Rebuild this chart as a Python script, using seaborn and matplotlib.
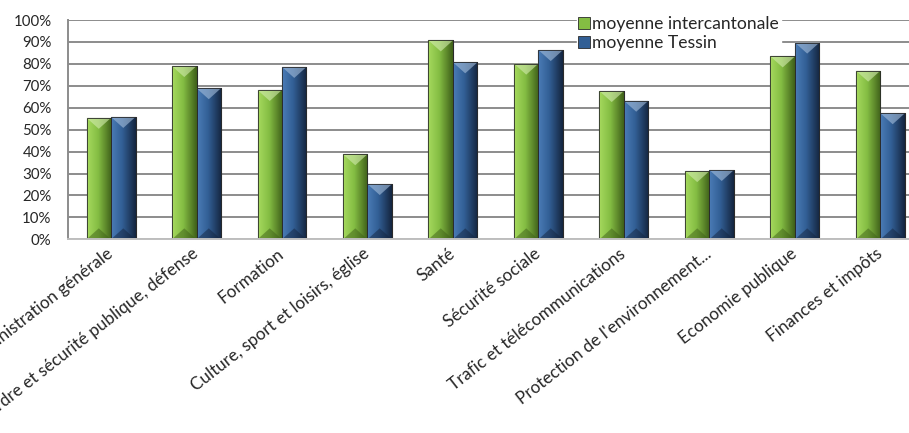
import numpy as np
import pandas as pd
import matplotlib
matplotlib.use("Agg")
import matplotlib.pyplot as plt
import seaborn as sns
from matplotlib.patches import Polygon, Patch
from matplotlib.ticker import PercentFormatter
from matplotlib.colors import to_rgb

categories = [
    "Administration générale",
    "Ordre et sécurité publique, défense",
    "Formation",
    "Culture, sport et loisirs, église",
    "Santé",
    "Sécurité sociale",
    "Trafic et télécommunications",
    "Protection de l'environnement...",
    "Economie publique",
    "Finances et impôts",
]
moyenne_intercantonale = [0.554, 0.790, 0.681, 0.388, 0.907, 0.801, 0.676, 0.311, 0.834, 0.769]
moyenne_tessin = [0.558, 0.689, 0.786, 0.252, 0.807, 0.863, 0.632, 0.316, 0.897, 0.575]
series_names = ["moyenne intercantonale", "moyenne Tessin"]

df = pd.DataFrame({
    "categorie": categories * 2,
    "valeur": moyenne_intercantonale + moyenne_tessin,
    "serie": [series_names[0]] * len(categories) + [series_names[1]] * len(categories),
})

sns.set_style("white")
plt.rcParams["font.family"] = ["Lato", "DejaVu Sans"]

# couleurs : clair (gauche) -> sombre (droite)
shades = {
    series_names[0]: ("#a6d95e", "#84bd43", "#3f6019"),
    series_names[1]: ("#4b7cb6", "#325f95", "#14253f"),
}
palette = {k: v[1] for k, v in shades.items()}

fig = plt.figure(figsize=(9.09, 4.33), dpi=100)
ax = fig.add_axes([0.0751, 0.4473, 0.9405, 0.5065])

sns.barplot(data=df, x="categorie", y="valeur", hue="serie", palette=palette,
            width=0.573, gap=0, saturation=1, legend=False, ax=ax,
            linewidth=0.8, edgecolor="#2a2a2a")

ax.set_ylim(0, 1)
ax.set_xlim(-0.5, len(categories) - 0.5)
ax.set_yticks(np.arange(0, 1.01, 0.1))
ax.yaxis.set_major_formatter(PercentFormatter(1.0, decimals=0))
ax.grid(axis="y", color="#8c8c8c", linewidth=1.4)
ax.set_axisbelow(True)
for s in ["top", "right"]:
    ax.spines[s].set_visible(False)
ax.spines["left"].set_color("#8c8c8c")
ax.spines["left"].set_linewidth(1.4)
ax.spines["bottom"].set_color("#bfbfbf")
ax.spines["bottom"].set_linewidth(1.4)
ax.set_xlabel("")
ax.set_ylabel("")
ax.tick_params(axis="y", length=0, pad=12, labelsize=10.8)
ax.tick_params(axis="x", length=0, pad=9, labelsize=12.3)
plt.setp(ax.get_xticklabels(), rotation=38, ha="right", va="center",
         rotation_mode="anchor")

# relief des barres : degrade horizontal + biseaux haut et bas
bevel_px = 11
px_per_unit = ax.get_window_extent().height
for container, name in zip(ax.containers, series_names):
    light, mid, dark = (np.array(to_rgb(c)) for c in shades[name])
    t = np.linspace(0, 1, 64)[:, None]
    grad = np.where(t < 0.45, light + (mid - light) * (t / 0.45),
                    mid + (dark - mid) * ((t - 0.45) / 0.55))
    for bar in container:
        x0, y0 = bar.get_x(), bar.get_y()
        w, h = bar.get_width(), bar.get_height()
        im = ax.imshow(grad[None, :, :], extent=(x0, x0 + w, y0, y0 + h),
                       aspect="auto", zorder=bar.get_zorder() + 0.1,
                       interpolation="bilinear")
        im.set_clip_path(bar)
        bh = bevel_px / px_per_unit
        top = Polygon([(x0, y0 + h), (x0 + w, y0 + h), (x0 + w / 2, y0 + h - bh)],
                      closed=True, facecolor=light * 0.5 + 0.5, alpha=0.6,
                      edgecolor="none", zorder=bar.get_zorder() + 0.2)
        bot = Polygon([(x0, y0), (x0 + w, y0), (x0 + w / 2, y0 + bh)],
                      closed=True, facecolor=dark, alpha=0.5,
                      edgecolor="none", zorder=bar.get_zorder() + 0.2)
        ax.add_patch(top)
        ax.add_patch(bot)
        ax.add_patch(plt.Rectangle((x0, y0), w, h, fill=False, edgecolor="#2a2a2a",
                                   linewidth=0.6, zorder=bar.get_zorder() + 0.3))
ax.set_xlim(-0.5, len(categories) - 0.5)
ax.set_ylim(0, 1)

handles = [Patch(facecolor=palette[n], edgecolor="#2a2a2a", linewidth=0.6) for n in series_names]
leg = ax.legend(handles, series_names, loc="upper left", bbox_to_anchor=(0.591, 1.04),
                frameon=True, fancybox=False, framealpha=1, edgecolor="white",
                fontsize=12.6, handlelength=0.65, handleheight=0.7, handletextpad=0.15,
                labelspacing=0.15, borderpad=0.08, borderaxespad=0.2)
leg.set_zorder(4)

fig.savefig("out.png", dpi=100)
